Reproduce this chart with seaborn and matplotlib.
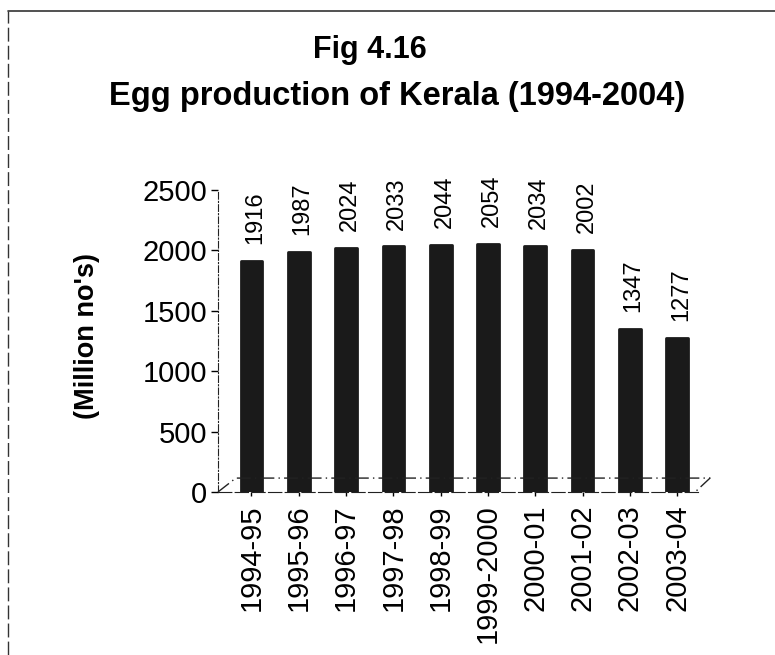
import pandas as pd
import seaborn as sns
import matplotlib.pyplot as plt
from matplotlib.lines import Line2D

# Egg production of Kerala, million numbers
years = ['1994-95', '1995-96', '1996-97', '1997-98', '1998-99',
         '1999-2000', '2000-01', '2001-02', '2002-03', '2003-04']
eggs = [1916, 1987, 2024, 2033, 2044, 2054, 2034, 2002, 1347, 1277]
yticks = [0, 500, 1000, 1500, 2000, 2500]

df = pd.DataFrame({'year': years, 'eggs': eggs})

sns.set_style('white')
plt.rcParams['font.family'] = ['Liberation Sans', 'DejaVu Sans']
plt.rcParams['text.color'] = 'black'
plt.rcParams['xtick.color'] = 'black'
plt.rcParams['ytick.color'] = 'black'
plt.rcParams['axes.labelcolor'] = 'black'

fig = plt.figure(figsize=(7.75, 6.55), dpi=100)
ax = fig.add_axes([0.2813, 0.2489, 0.62, 0.461])

sns.barplot(data=df, x='year', y='eggs', color='#1a1a1a', width=0.46,
            saturation=1, ax=ax, edgecolor='#1a1a1a', linewidth=2)
for p in ax.patches:
    p.set_joinstyle('round')

# value labels above each bar
for i, v in enumerate(eggs):
    ax.text(i + 0.08, v + 140, str(v), rotation=90, ha='center', va='bottom',
            fontsize=17)

ax.set_ylim(0, 2500)
ax.set_xlim(-0.708, 9.45)
ax.set_yticks(yticks)
ax.set_yticklabels([str(t) for t in yticks], fontsize=21)
ax.set_xticks(range(len(years)))
ax.set_xticklabels(years, rotation=90, fontsize=21)
ax.tick_params(axis='y', length=5, width=1, direction='out', left=True, pad=3)
ax.tick_params(axis='x', length=3, width=1, direction='out', bottom=True, pad=6)
ax.set_xlabel('')
ax.set_ylabel("(Million no's)", fontsize=19.5, fontweight='bold')
ax.yaxis.set_label_coords(-0.2456, 0.517)

for s in ['top', 'right']:
    ax.spines[s].set_visible(False)
ax.spines['left'].set_linestyle((0, (6, 2, 1, 2)))
ax.spines['left'].set_color('#222222')
ax.spines['bottom'].set_linestyle((0, (12, 3)))
ax.spines['bottom'].set_color('#222222')

# floor of the 3d chart
ax.add_line(Line2D([0.0, 0.037, 1.024, 0.993], [0.0, 0.046, 0.046, 0.0],
                   transform=ax.transAxes, color='#222222', lw=1,
                   ls=(0, (10, 3, 1, 3)), clip_on=False))

fig.text(0.477, 0.924, 'Fig 4.16', ha='center', va='center',
         fontsize=22, fontweight='bold')
fig.text(0.512, 0.853, 'Egg production of Kerala (1994-2004)', ha='center',
         va='center', fontsize=23.5, fontweight='bold')

# scanned page frame
fig.add_artist(Line2D([0.01, 0.01], [0.0, 0.983], transform=fig.transFigure,
                      color='#333333', lw=1, ls=(0, (10, 3))))
fig.add_artist(Line2D([0.01, 1.0], [0.983, 0.983], transform=fig.transFigure,
                      color='#333333', lw=1.2))

plt.savefig('out.png', dpi=100)
plt.close()
